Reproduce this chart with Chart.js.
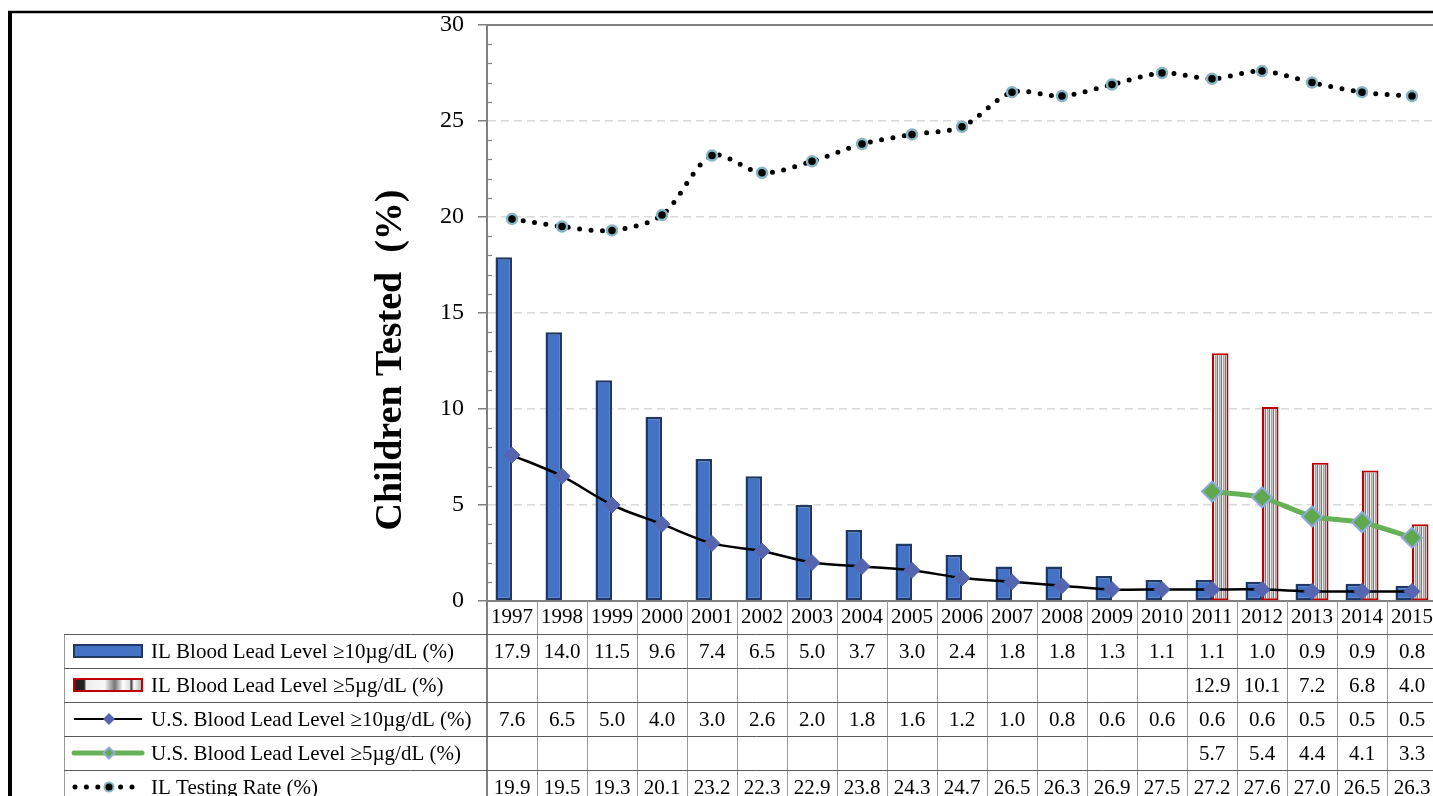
<!DOCTYPE html>
<html>
<head>
<meta charset="utf-8">
<script src="https://cdn.jsdelivr.net/npm/chart.js@4.4.1/dist/chart.umd.min.js"></script>
<style>
html,body{margin:0;padding:0;background:#fff;overflow:hidden;width:1433px;height:796px}
#wrap{position:relative;width:1433px;height:796px;overflow:hidden}
canvas{display:block}
</style>
</head>
<body>
<div id="wrap"><canvas id="c" width="1449" height="796"></canvas></div>
<script>
// ---- data ----
const years = ['1997','1998','1999','2000','2001','2002','2003','2004','2005','2006','2007','2008','2009','2010','2011','2012','2013','2014','2015'];
const ilBll10 = [17.9,14.0,11.5,9.6,7.4,6.5,5.0,3.7,3.0,2.4,1.8,1.8,1.3,1.1,1.1,1.0,0.9,0.9,0.8];
const ilBll5  = [null,null,null,null,null,null,null,null,null,null,null,null,null,null,12.9,10.1,7.2,6.8,4.0];
const usBll10 = [7.6,6.5,5.0,4.0,3.0,2.6,2.0,1.8,1.6,1.2,1.0,0.8,0.6,0.6,0.6,0.6,0.5,0.5,0.5];
const usBll5  = [null,null,null,null,null,null,null,null,null,null,null,null,null,null,5.7,5.4,4.4,4.1,3.3];
const ilTesting = [19.9,19.5,19.3,20.1,23.2,22.3,22.9,23.8,24.3,24.7,26.5,26.3,26.9,27.5,27.2,27.6,27.0,26.5,26.3];
const seriesLabels = [
  'IL Blood Lead Level \u226510\u00b5g/dL (%)',
  'IL Blood Lead Level \u22655\u00b5g/dL (%)',
  'U.S. Blood Lead Level \u226510\u00b5g/dL (%)',
  'U.S. Blood Lead Level \u22655\u00b5g/dL (%)',
  'IL Testing Rate (%)'
];
const yTitle = 'Children Tested  (%)';
const yMin = 0, yMax = 30, yStep = 5;

const SERIF = "'Liberation Serif','Times New Roman',serif";
const BLUE = '#4472C4', NAVY = '#1F3864', RED = '#C00000';
const DIAMOND = '#5565B0', GREEN = '#66B158', GREEN_PT = '#5FA84E', LIGHTBLUE = '#8FAADC';
const TEAL = '#86B5C4';

function makeStripe() {
  const pc = document.createElement('canvas');
  pc.width = 4; pc.height = 4;
  const g = pc.getContext('2d');
  const cols = ['#c8c8c8','#7a7a7a','#eeeeee','#a6a6a6'];
  cols.forEach((c,i)=>{ g.fillStyle = c; g.fillRect(i,0,1,4); });
  return document.getElementById('c').getContext('2d').createPattern(pc,'repeat');
}
const stripe = makeStripe();

function drawDiamond(ctx, x, y, r, fill, stroke, lw) {
  ctx.beginPath();
  ctx.moveTo(x, y - r); ctx.lineTo(x + r, y); ctx.lineTo(x, y + r); ctx.lineTo(x - r, y); ctx.closePath();
  ctx.fillStyle = fill; ctx.fill();
  if (lw) { ctx.lineWidth = lw; ctx.strokeStyle = stroke; ctx.stroke(); }
}

const extras = {
  id: 'extras',
  afterDraw(chart) {
    const ctx = chart.ctx;
    const ca = chart.chartArea;
    const xs = chart.scales.x, ys = chart.scales.y;
    const W = chart.width, H = chart.height;
    ctx.save();
    // outer frame
    ctx.strokeStyle = '#000';
    ctx.lineWidth = 2.5;
    ctx.beginPath(); ctx.moveTo(8, 12); ctx.lineTo(W, 12); ctx.stroke();
    ctx.lineWidth = 4;
    ctx.beginPath(); ctx.moveTo(10, 11); ctx.lineTo(10, H); ctx.stroke();
    // plot-area top border
    ctx.strokeStyle = '#808080'; ctx.lineWidth = 2;
    ctx.beginPath(); ctx.moveTo(ca.left, ca.top); ctx.lineTo(W, ca.top); ctx.stroke();
    // minor ticks
    ctx.lineWidth = 1.2;
    for (let v = yMin; v <= yMax; v++) {
      if (v % yStep === 0) continue;
      const py = Math.round(ys.getPixelForValue(v)) + 0.5;
      ctx.beginPath(); ctx.moveTo(ca.left, py); ctx.lineTo(ca.left + 5, py); ctx.stroke();
    }
    // y title
    ctx.save();
    ctx.translate(391, 360);
    ctx.rotate(-Math.PI / 2);
    ctx.font = 'bold 38px ' + SERIF;
    ctx.fillStyle = '#000';
    ctx.textAlign = 'center'; ctx.textBaseline = 'middle';
    ctx.fillText(yTitle, 0, 0);
    ctx.restore();

    // data table
    const n = years.length;
    const half = (xs.getPixelForValue(1) - xs.getPixelForValue(0)) / 2;
    const tTop = xs.bottom;
    const rowH = 34;
    const tableLeft = 64;
    const rows = [ilBll10, ilBll5, usBll10, usBll5, ilTesting];
    ctx.strokeStyle = '#9a9a9a'; ctx.lineWidth = 1;
    for (let i = 0; i <= n; i++) {
      const px = Math.round(xs.getPixelForValue(i) - half) + 0.5;
      ctx.beginPath(); ctx.moveTo(px, ca.bottom); ctx.lineTo(px, H); ctx.stroke();
    }
    ctx.beginPath(); ctx.moveTo(tableLeft + 0.5, tTop); ctx.lineTo(tableLeft + 0.5, H); ctx.stroke();
    ctx.strokeStyle = '#808080'; ctx.lineWidth = 2;
    ctx.beginPath(); ctx.moveTo(ca.left, ca.bottom); ctx.lineTo(ca.left, H); ctx.stroke();
    ctx.strokeStyle = '#5a5a5a'; ctx.lineWidth = 1;
    for (let r = 0; r <= rows.length; r++) {
      const py = Math.round(tTop + r * rowH) + 0.5;
      ctx.beginPath(); ctx.moveTo(tableLeft, py); ctx.lineTo(W, py); ctx.stroke();
    }
    ctx.font = '21px ' + SERIF;
    ctx.fillStyle = '#000';
    ctx.textBaseline = 'middle';
    rows.forEach((arr, r) => {
      const cy = tTop + r * rowH + rowH / 2 + 1;
      ctx.textAlign = 'center';
      arr.forEach((v, i) => {
        if (v === null || v === undefined) return;
        ctx.fillText(v.toFixed(1), xs.getPixelForValue(i), cy);
      });
      ctx.textAlign = 'left';
      ctx.fillText(seriesLabels[r], 151, cy);
    });
    // legend keys
    const kx0 = 74, kx1 = 142, kmid = 109;
    let cy = tTop + rowH / 2;
    ctx.fillStyle = BLUE; ctx.fillRect(kx0, cy - 6, kx1 - kx0, 12);
    ctx.strokeStyle = NAVY; ctx.lineWidth = 2; ctx.strokeRect(kx0, cy - 6, kx1 - kx0, 12);
    cy = tTop + rowH * 1.5;
    const gr = ctx.createLinearGradient(kx0, 0, kx1, 0);
    gr.addColorStop(0, '#222'); gr.addColorStop(0.15, '#222'); gr.addColorStop(0.18, '#eee');
    gr.addColorStop(0.45, '#f8f8f8'); gr.addColorStop(0.6, '#777'); gr.addColorStop(0.72, '#fff');
    gr.addColorStop(0.82, '#ddd'); gr.addColorStop(0.84, '#333'); gr.addColorStop(0.88, '#fff'); gr.addColorStop(1, '#aaa');
    ctx.fillStyle = gr; ctx.fillRect(kx0, cy - 6, kx1 - kx0, 12);
    ctx.strokeStyle = RED; ctx.lineWidth = 2; ctx.strokeRect(kx0, cy - 6, kx1 - kx0, 12);
    cy = tTop + rowH * 2.5;
    ctx.strokeStyle = '#000'; ctx.lineWidth = 2;
    ctx.beginPath(); ctx.moveTo(kx0, cy); ctx.lineTo(kx1, cy); ctx.stroke();
    drawDiamond(ctx, kmid, cy, 6, DIAMOND);
    cy = tTop + rowH * 3.5;
    ctx.strokeStyle = GREEN; ctx.lineWidth = 5; ctx.lineCap = 'round';
    ctx.beginPath(); ctx.moveTo(kx0, cy); ctx.lineTo(kx1, cy); ctx.stroke();
    drawDiamond(ctx, kmid, cy, 5.5, GREEN_PT, LIGHTBLUE, 2);
    cy = tTop + rowH * 4.5;
    ctx.strokeStyle = '#000'; ctx.lineWidth = 5; ctx.lineCap = 'round';
    ctx.setLineDash([0, 11.4]);
    ctx.beginPath(); ctx.moveTo(kx0 + 1, cy); ctx.lineTo(kx1 - 6, cy); ctx.stroke();
    ctx.setLineDash([]);
    ctx.beginPath(); ctx.arc(kmid, cy, 4.5, 0, Math.PI * 2);
    ctx.fillStyle = '#000'; ctx.fill(); ctx.strokeStyle = TEAL; ctx.lineWidth = 2; ctx.stroke();
    ctx.restore();
  }
};

new Chart(document.getElementById('c'), {
  data: {
    labels: years,
    datasets: [
      { type: 'bar', label: seriesLabels[0], data: ilBll10, backgroundColor: BLUE, borderColor: NAVY, borderWidth: 2.5, borderSkipped: false, order: 3 },
      { type: 'bar', label: seriesLabels[1], data: ilBll5, backgroundColor: stripe, borderColor: RED, borderWidth: 2, borderSkipped: false, order: 3 },
      { type: 'line', label: seriesLabels[2], data: usBll10, borderColor: '#000', borderWidth: 2.5, tension: 0.3,
        pointStyle: 'rectRot', pointRadius: 8, pointBackgroundColor: DIAMOND, pointBorderColor: DIAMOND, pointBorderWidth: 1, order: 1 },
      { type: 'line', label: seriesLabels[3], data: usBll5, borderColor: GREEN, borderWidth: 5, tension: 0.2,
        pointStyle: 'rectRot', pointRadius: 10, pointBackgroundColor: GREEN_PT, pointBorderColor: LIGHTBLUE, pointBorderWidth: 2, order: 0 },
      { type: 'line', label: seriesLabels[4], data: ilTesting, borderColor: '#000', borderWidth: 5, borderDash: [0, 11.4], borderCapStyle: 'round', tension: 0.3,
        pointStyle: 'circle', pointRadius: 5, pointBackgroundColor: '#000', pointBorderColor: TEAL, pointBorderWidth: 2.5, order: 0 }
    ]
  },
  options: {
    responsive: false,
    animation: false,
    events: [],
    layout: { padding: { top: 25, left: 0, right: 3, bottom: 162 } },
    plugins: { legend: { display: false }, tooltip: { enabled: false } },
    datasets: { bar: { categoryPercentage: 0.66, barPercentage: 1.0 } },
    scales: {
      x: {
        type: 'category', offset: true,
        grid: { display: false, drawTicks: false },
        border: { display: true, color: '#808080', width: 2 },
        ticks: { font: { family: SERIF, size: 21 }, color: '#000', padding: 4, maxRotation: 0, autoSkip: false },
        afterFit(s) { s.height = 33; }
      },
      y: {
        min: yMin, max: yMax,
        ticks: { stepSize: yStep, font: { family: SERIF, size: 24, lineHeight: 0.9 }, color: '#000', padding: 14 },
        grid: {
          color: (c) => (c.tick && (c.tick.value === yMin || c.tick.value === yMax)) ? 'rgba(0,0,0,0)' : '#D9D9D9',
          lineWidth: 1.5, tickColor: '#808080', tickLength: 9, tickWidth: 1.5
        },
        border: { display: true, color: '#808080', width: 2, dash: [8, 5] },
        afterFit(s) { s.width = 487; }
      }
    }
  },
  plugins: [extras]
});
</script>
</body>
</html>
